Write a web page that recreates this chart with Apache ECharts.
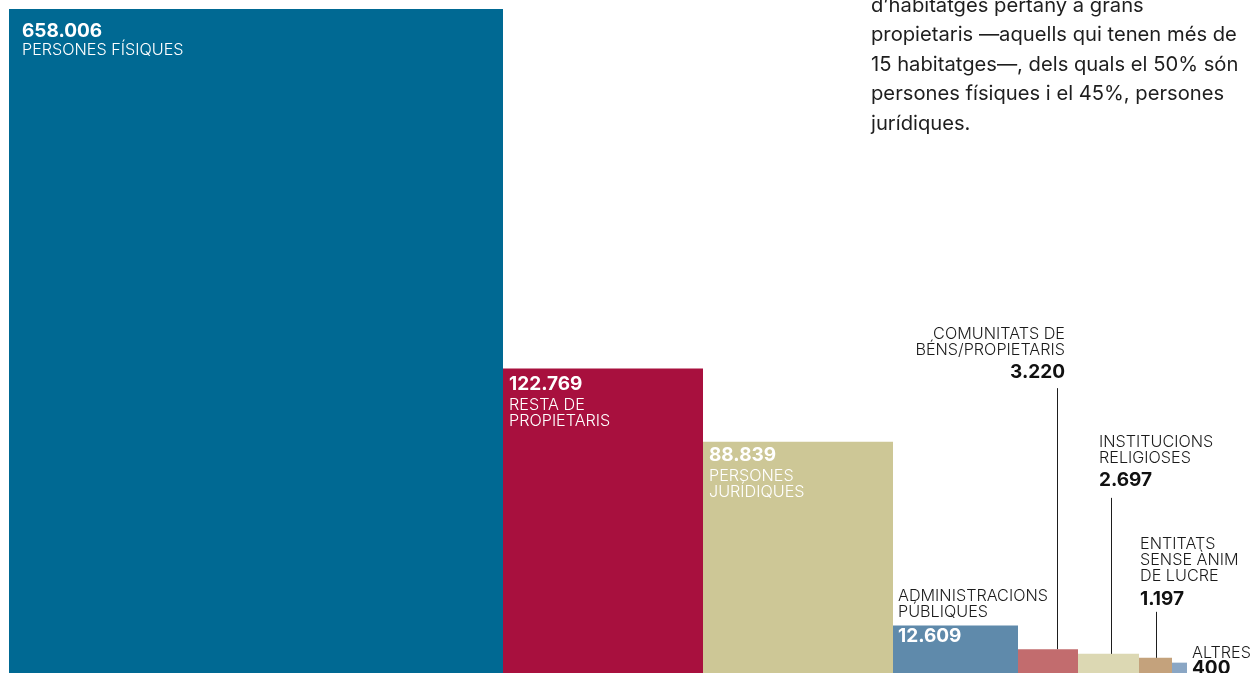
<!DOCTYPE html>
<html>
<head>
<meta charset="utf-8">
<script src="https://cdn.jsdelivr.net/npm/echarts@6/dist/echarts.min.js"></script>
<style>
html,body{margin:0;padding:0;background:#fff;overflow:hidden;}
#chart{width:1253px;height:676px;}
</style>
</head>
<body>
<div id="chart"></div>
<script>
// ---- data ----
const categories = [
  ['PERSONES FÍSIQUES'],
  ['RESTA DE', 'PROPIETARIS'],
  ['PERSONES', 'JURÍDIQUES'],
  ['ADMINISTRACIONS', 'PÚBLIQUES'],
  ['COMUNITATS DE', 'BÉNS/PROPIETARIS'],
  ['INSTITUCIONS', 'RELIGIOSES'],
  ['ENTITATS', 'SENSE ÀNIM', 'DE LUCRE'],
  ['ALTRES']
];
const values = [658006, 122769, 88839, 12609, 3220, 2697, 1197, 400];
// column widths (x-axis units); bar area is proportional to the value
const widths = [494, 200, 190, 125, 60, 61, 33, 15];
const introLines = [
  'd’habitatges pertany a grans',
  'propietaris —aquells qui tenen més de',
  '15 habitatges—, dels quals el 50% són',
  'persones físiques i el 45%, persones',
  'jurídiques.'
];

// ---- styles ----
const colors = ['#006993', '#a8103e', '#cdc796', '#5f8aab', '#c26c6e', '#dcd8b3', '#c4a27c', '#8aa6c4'];
const FONT = 'Inter, "Noto Sans", sans-serif';
const NAME_SIZE = 16.2;
const VALUE_SIZE = 19;
const labelLayout = [
  {mode: 'inside', dx: 13, valueDy: 22, nameDy: 41},
  {mode: 'inside', dx: 6, valueDy: 16, nameDy: 37},
  {mode: 'inside', dx: 6, valueDy: 13, nameDy: 34},
  {mode: 'split', dx: 5, valueDy: 11, nameDy: -13},
  {mode: 'leader', align: 'right', lineDx: 39, textDx: 47, leader: 261, gap: 15.5, nameGap: 22},
  {mode: 'leader', align: 'left', lineDx: 33, textDx: 21, leader: 156, gap: 17.5, nameGap: 22},
  {mode: 'leader', align: 'left', lineDx: 17, textDx: 1, leader: 46, gap: 13, nameGap: 23},
  {mode: 'leader', align: 'left', lineDx: 0, textDx: 20, leader: -21, gap: 15, nameGap: 16, noLine: true}
];

function fmt(v) { return String(v).replace(/\B(?=(\d{3})+(?!\d))/g, '.'); }

// build dataset: [x0, x1, density, index]
let cum = 0;
const rows = values.map((v, i) => {
  const r = [cum, cum + widths[i], v / widths[i], i];
  cum += widths[i];
  return r;
});
const yMax = values[0] / widths[0];

function txt(text, x, y, opts) {
  return {
    type: 'text',
    z2: 10,
    style: Object.assign({
      text: text, x: x, y: y,
      fontFamily: FONT, fontSize: NAME_SIZE, fontWeight: 300,
      fill: '#1b1b1b', align: 'left', verticalAlign: 'middle'
    }, opts || {})
  };
}

function renderItem(params, api) {
  const x0 = api.value(0), x1 = api.value(1), d = api.value(2), i = api.value(3);
  const tl = api.coord([x0, d]);
  const br = api.coord([x1, 0]);
  const L = labelLayout[i];
  const children = [{
    type: 'rect',
    shape: {x: tl[0], y: tl[1], width: br[0] - tl[0], height: br[1] - tl[1]},
    style: {fill: colors[i]}
  }];
  const names = categories[i];
  const valStr = fmt(values[i]);
  const valStyle = {fontSize: VALUE_SIZE, fontWeight: 700};
  if (L.mode === 'inside') {
    children.push(txt(valStr, tl[0] + L.dx, tl[1] + L.valueDy, Object.assign({fill: '#fff'}, valStyle)));
    names.forEach((n, k) => children.push(txt(n, tl[0] + L.dx, tl[1] + L.nameDy + k * 16, {fill: '#fff'})));
  } else if (L.mode === 'split') {
    children.push(txt(valStr, tl[0] + L.dx, tl[1] + L.valueDy, Object.assign({fill: '#fff'}, valStyle)));
    const n = names.length;
    names.forEach((nm, k) => children.push(txt(nm, tl[0] + L.dx, tl[1] + L.nameDy - (n - 1 - k) * 16, {fill: '#1b1b1b'})));
  } else {
    const lineTop = tl[1] - L.leader;
    if (!L.noLine) {
      const lx = Math.round(tl[0] + L.lineDx) + 0.5;
      children.push({
        type: 'line', z2: 5,
        shape: {x1: lx, y1: lineTop, x2: lx, y2: tl[1]},
        style: {stroke: '#1e1e1e', lineWidth: 1}
      });
    }
    const vy = lineTop - L.gap;
    const tx = tl[0] + L.textDx;
    children.push(txt(valStr, tx, vy, Object.assign({fill: '#111', align: L.align}, valStyle)));
    const n = names.length;
    names.forEach((nm, k) => children.push(txt(nm, tx, vy - L.nameGap - (n - 1 - k) * 16, {align: L.align})));
  }
  return {type: 'group', children: children};
}

const chart = echarts.init(document.getElementById('chart'), null, {renderer: 'canvas'});
chart.setOption({
  animation: false,
  backgroundColor: '#fff',
  grid: {left: 9, right: 9, top: 9, bottom: 0},
  xAxis: {type: 'value', min: 0, max: 1235, show: false},
  yAxis: {type: 'value', min: 0, max: yMax, show: false},
  graphic: [{
    type: 'text',
    left: 871, top: -9,
    style: {
      text: introLines.join('\n'),
      fontFamily: FONT, fontSize: 20.2, lineHeight: 29.5,
      fill: '#1e1e1e'
    }
  }],
  series: [{
    type: 'custom',
    renderItem: renderItem,
    clip: false,
    encode: {x: [0, 1], y: 2},
    data: rows
  }]
});
</script>
</body>
</html>
